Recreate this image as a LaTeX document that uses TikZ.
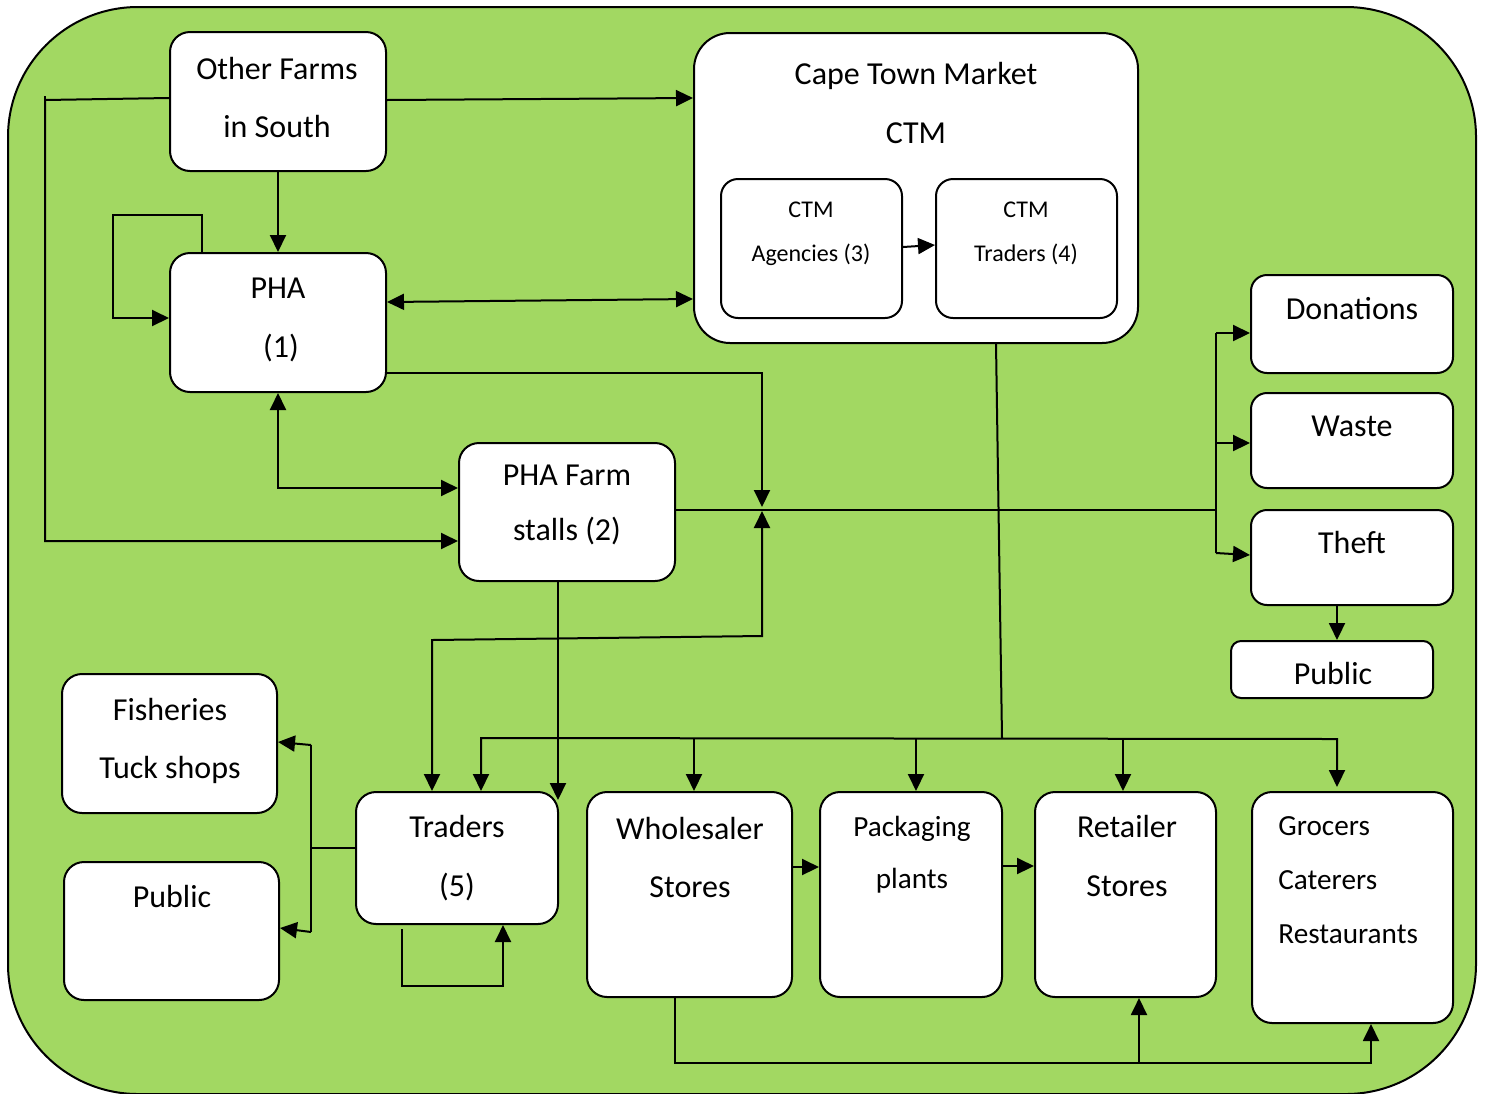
\documentclass[tikz,border=0pt]{standalone}
\usepackage{fontspec}
\setmainfont{Carlito}
\usetikzlibrary{arrows.meta}
\definecolor{bg}{RGB}{162,216,98}
\begin{document}
\begin{tikzpicture}[x=0.5pt,y=-0.5pt,
  box/.style={draw=black, line width=1pt, fill=white, rounded corners=10pt, inner sep=0pt},
  lbl/.style={anchor=base, inner sep=0pt, font=\fontsize{16}{19}\selectfont},
  lbm/.style={anchor=base, inner sep=0pt, font=\fontsize{14.6}{18}\selectfont},
  lbs/.style={anchor=base, inner sep=0pt, font=\fontsize{12}{14}\selectfont},
  conn/.style={line width=1pt},
  arr/.style={conn, -{Triangle[length=8.5pt,width=8pt]}},
  arrb/.style={conn, {Triangle[length=8.5pt,width=8pt]}-{Triangle[length=8.5pt,width=8pt]}}]
\useasboundingbox (0,0) rectangle (1486,1093);
\fill[white] (0,0) rectangle (1486,1093);
\draw[fill=bg, line width=1pt, rounded corners=65pt] (8,7) rectangle (1476,1094);

% boxes
\node[box, minimum width=108pt, minimum height=69.5pt] (of) at (278,101.5) {};
\node[box, minimum width=108pt, minimum height=69.5pt] (pha) at (278,322.5) {};
\node[box, minimum width=222pt, minimum height=155pt, rounded corners=18pt] (ctm) at (916,188) {};
\node[box, minimum width=90.5pt, minimum height=69.5pt, rounded corners=8.5pt] (ag) at (811.5,248.5) {};
\node[box, minimum width=90.5pt, minimum height=69.5pt, rounded corners=8.5pt] (tr4) at (1026.5,248.5) {};
\node[box, minimum width=101pt, minimum height=49pt, rounded corners=8pt] (don) at (1352,324) {};
\node[box, minimum width=101pt, minimum height=47.5pt, rounded corners=8pt] (waste) at (1352,440.5) {};
\node[box, minimum width=101pt, minimum height=47.5pt, rounded corners=8pt] (theft) at (1352,557.5) {};
\node[box, minimum width=101pt, minimum height=28.5pt, rounded corners=5pt] (pubR) at (1332,669.5) {};
\node[box, minimum width=108pt, minimum height=69pt] (stall) at (567,512) {};
\node[box, minimum width=107.5pt, minimum height=69.5pt] (fish) at (169.5,743.5) {};
\node[box, minimum width=107.5pt, minimum height=69pt] (pubL) at (171.5,931) {};
\node[box, minimum width=101pt, minimum height=66pt] (trd) at (457,858) {};
\node[box, minimum width=102.5pt, minimum height=102.5pt] (whs) at (689.5,894.5) {};
\node[box, minimum width=91pt, minimum height=102.5pt] (pack) at (911,894.5) {};
\node[box, minimum width=90.5pt, minimum height=102.5pt] (ret) at (1125.5,894.5) {};
\node[box, minimum width=100.5pt, minimum height=115.5pt] (groc) at (1352.5,907.5) {};

% texts
\node[lbl] (ofA) at (277,79) {Other Farms};
\node[lbl] (ofB) at (277,137) {in South};
\node[lbl] (phaA) at (278,298) {PHA};
\node[lbl] (phaB) at (281,357) {(1)};
\node[lbl] (ctmA) at (916,84) {Cape Town Market};
\node[lbl] (ctmB) at (916,143) {CTM};
\node[lbs] (agA) at (811,217) {CTM};
\node[lbs] (agB) at (811,261) {Agencies (3)};
\node[lbs] (t4A) at (1026,217) {CTM};
\node[lbs] (t4B) at (1026,261) {Traders (4)};
\node[lbl] (donT) at (1352,319) {Donations};
\node[lbl] (wasT) at (1352,436) {Waste};
\node[lbl] (thfT) at (1352,553) {Theft};
\node[lbl] (pubRT) at (1333,684) {Public};
\node[lbl] (stA) at (567,485) {PHA Farm};
\node[lbl] (stB) at (567,540) {stalls (2)};
\node[lbl] (fishA) at (170,720) {Fisheries};
\node[lbl] (fishB) at (170,778) {Tuck shops};
\node[lbl] (pubLT) at (172,907) {Public};
\node[lbl] (trA) at (457,837) {Traders};
\node[lbl] (trB) at (457,896) {(5)};
\node[lbl] (whA) at (690,839) {Wholesaler};
\node[lbl] (whB) at (690,897) {Stores};
\node[lbm] (paA) at (912,836) {Packaging};
\node[lbm] (paB) at (912,888) {plants};
\node[lbl] (reA) at (1127,837) {Retailer};
\node[lbl] (reB) at (1127,896) {Stores};
\node[lbm, anchor=base west] (grA) at (1278,835) {Grocers};
\node[lbm, anchor=base west] (grB) at (1278,889) {Caterers};
\node[lbm, anchor=base west] (grC) at (1278,943) {Restaurants};

% junction points
\coordinate (jn) at (762,509);
\coordinate (bus) at (1002,738);

% connectors
\draw[arr] (of.east|-0,100) -- (ctm.west|-0,98);
\draw[conn] (45,96) -- (45,100);
\draw[arr] (of.west|-0,98) -- (45,100) -- (45,541) -- (stall.west|-0,541);
\draw[arr] (of.south) -- (pha.north);
\draw[arr] (pha.north-|202,0) -- (202,215) -- (113,215) -- (113,318) -- (pha.west|-0,318);
\draw[arrb] (pha.east|-0,302) -- (ctm.west|-0,299);
\draw[arr] (pha.east|-0,373) -- (762,373) -- ([yshift=1pt]jn);
\draw[arrb] (pha.south) -- (278,488) -- (stall.west|-0,488);
\draw[arr] (ag.east|-0,247) -- (tr4.west|-0,245);

\draw[conn] (stall.east|-0,510) -- (1216,510);
\draw[conn] (1216,333) -- (1216,553);
\draw[arr] (1216,333) -- (don.west|-0,333);
\draw[arr] (1216,443) -- (waste.west|-0,443);
\draw[arr] (1216,553) -- (theft.west|-0,555);
\draw[arr] (theft.south-|1337,0) -- (pubR.north-|1337,0);

\draw[arrb] (trd.north-|432,0) -- (432,640) -- (762,636) -- ([yshift=-1pt]jn);
\draw[arr] (stall.south-|558,0) -- (558,800);

\draw[conn] (ctm.south-|996,0) -- (bus);
\draw[arrb] (trd.north-|481,0) -- (481,738) -- (1337,739) -- ([yshift=2pt]groc.north-|1337,0);
\draw[arr] (694,738) -- (whs.north-|694,0);
\draw[arr] (916,738) -- (pack.north-|916,0);
\draw[arr] (1123,738) -- (ret.north-|1123,0);

\draw[arr] (whs.east|-0,867) -- (pack.west|-0,867);
\draw[arr] (pack.east|-0,866) -- (ret.west|-0,866);
\draw[arr] (whs.south-|675,0) -- (675,1063) -- (1371,1063) -- (groc.south-|1371,0);
\draw[arr] (1139,1063) -- (ret.south-|1139,0);

\draw[arr] ([yshift=-2pt]trd.south-|402,0) -- (402,986) -- (503,986) -- (trd.south-|503,0);

\draw[conn] (trd.west|-0,848) -- (311,848);
\draw[conn] (311,745) -- (311,932);
\draw[arr] (311,745) -- (fish.east|-0,742);
\draw[arr] (311,932) -- (pubL.east|-0,928);
\end{tikzpicture}
\end{document}
